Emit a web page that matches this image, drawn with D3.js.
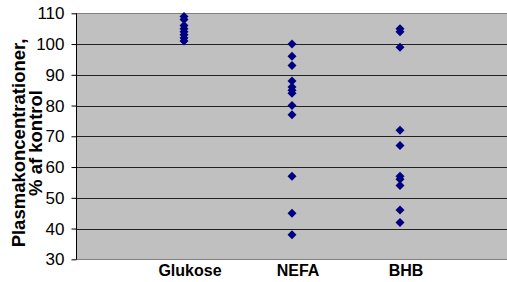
<!DOCTYPE html>
<html><head><meta charset="utf-8">
<script src="https://cdn.jsdelivr.net/npm/d3@7"></script>
<style>body{margin:0;background:#fff}svg{display:block}</style>
</head><body><svg id="c" width="507" height="282"></svg>
<script>
const categories = ["Glukose", "NEFA", "BHB"];
const glukose = [109, 108, 106, 105, 104, 103, 102, 101];
const nefa = [100, 96, 93, 88, 86, 85, 84, 80, 77, 57, 45, 38];
const bhb = [105, 104, 99, 72, 67, 57, 56, 54, 46, 42];
const yTicks = [30, 40, 50, 60, 70, 80, 90, 100, 110];
const yTitle = ["Plasmakoncentrationer,", "% af kontrol"];

const series = [glukose, nefa, bhb];
const svg = d3.select("#c");
const F = "Liberation Sans, Arial, sans-serif";
const L = 76, R = 508, T = 13.3, B = 259.3;
const x = d3.scaleLinear().domain([0, 4]).range([L, R]);
const y = d3.scaleLinear().domain([30, 110]).range([B, T]);

svg.append("rect").attr("x", L).attr("y", T).attr("width", R - L).attr("height", B - T).attr("fill", "#C0C0C0");

svg.append("g").selectAll("line").data(yTicks.slice(1, -1)).join("line")
  .attr("x1", L).attr("x2", R).attr("y1", d => Math.round(y(d)) + 0.5).attr("y2", d => Math.round(y(d)) + 0.5)
  .attr("stroke", "#222").attr("stroke-width", 1);
[110, 30].forEach(v => svg.append("line").attr("x1", L).attr("x2", R)
  .attr("y1", Math.round(y(v)) + 0.5).attr("y2", Math.round(y(v)) + 0.5)
  .attr("stroke", "#808080"));

const ya = svg.append("g").attr("transform", `translate(${L + 0.5},0)`)
  .call(d3.axisLeft(y).tickValues(yTicks).tickSize(5).tickPadding(7).tickFormat(d3.format("d")));
ya.select(".domain").attr("stroke", "#000").attr("d", `M0,${T}V${B}`);
ya.selectAll(".tick line").attr("stroke", "#000");
ya.selectAll(".tick text").attr("font-family", F).attr("font-size", 17).attr("fill", "#000");

const yt = svg.append("text").attr("transform", "translate(0,143) rotate(-90)")
  .attr("text-anchor", "middle").attr("font-family", F)
  .attr("font-size", 18.5).attr("font-weight", "bold");
yTitle.forEach((t, i) => yt.append("tspan").attr("x", 0).attr("y", 25 + i * 17).text(t));

svg.append("g").selectAll("text").data(categories).join("text")
  .attr("x", (d, i) => x(i + 1) + 6).attr("y", 276)
  .attr("text-anchor", "middle").attr("font-family", F)
  .attr("font-size", 16).attr("font-weight", "bold").text(d => d);

const pts = series.flatMap((s, i) => s.map(v => ({ i, v })));
svg.append("g").selectAll("path").data(pts).join("path")
  .attr("transform", d => `translate(${x(d.i + 1)},${y(d.v)})`)
  .attr("d", "M0,-4.5L4.5,0L0,4.5L-4.5,0Z")
  .attr("fill", "#000080");
</script></body></html>
